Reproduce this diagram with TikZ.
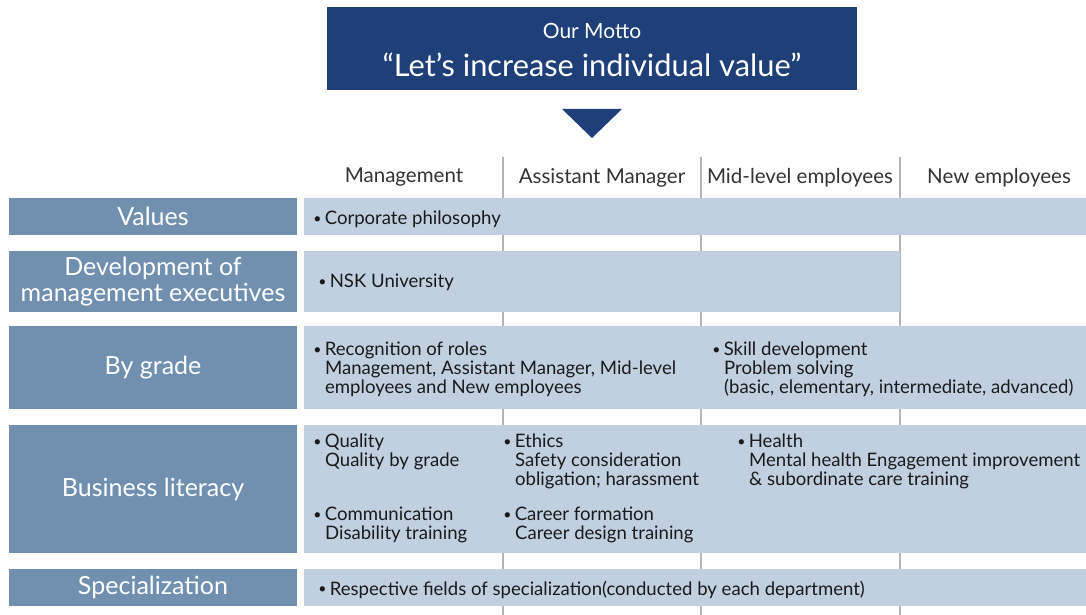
\documentclass[tikz,border=0pt]{standalone}
\usepackage{fontspec}
\setmainfont{Lato}
\usetikzlibrary{positioning}
\definecolor{motto}{HTML}{1E3F78}
\definecolor{label}{HTML}{7190B0}
\definecolor{row}{HTML}{C0D0E1}
\definecolor{divider}{HTML}{B4B4B4}
\definecolor{headtext}{HTML}{333333}
\definecolor{itemtext}{HTML}{1A1A1A}
\newcommand{\bl}{\makebox[0.62em][l]{\raisebox{0.06em}{\fontsize{10}{10}\selectfont\textbullet}}}
\newcommand{\ind}{\hspace*{0.64em}}

\begin{document}
\begin{tikzpicture}[x=0.025cm,y=-0.025cm,
    block_motto/.style ={rectangle, draw=none, fill=motto,
      minimum width=13.25cm, minimum height=2.075cm},
    block_mottotext/.style ={text=white, inner sep=0pt},
    block_label/.style ={rectangle, draw=none, fill=label, text=white,
      minimum width=7.2cm, align=center, inner sep=0pt,
      font=\fontsize{17.8}{18.4}\selectfont},
    block_row/.style ={rectangle, draw=none, fill=row,
      minimum width=19.55cm, inner sep=0pt},
    block_head/.style ={text=headtext, font=\fontsize{14.6}{17}\selectfont},
    block_item/.style ={anchor=north west, inner sep=0pt, align=left,
      text=itemtext, font=\fontsize{13.2}{13.5}\selectfont},
      line/.style ={draw=divider, line width=1.2pt}]
    \useasboundingbox (0,0) rectangle (1086,615);
    % motto on top
    \node [block_motto] (motto) at (592,48.5) {};
    \node [block_mottotext, font=\fontsize{14.9}{17}\selectfont] (motto_top) at (592,31) {Our Motto};
    \node [block_mottotext, font=\fontsize{21.9}{25}\selectfont] (motto_main) at (592,65) {“Let’s increase individual value”};
    \fill [motto] (562,109) -- (622,109) -- (592,138) -- cycle;
    % column dividers
    \begin{scope}[every path/.style=line]
      \foreach \x in {503,701,900}
        \path (\x,157) -- (\x,615);
    \end{scope}
    % column heads
    \node [block_head] (head_mgmt) at (404,177.5) {Management};
    \node [block_head] (head_asst) at (602,177.5) {Assistant Manager};
    \node [block_head] (head_mid) at (800,177.5) {Mid-level employees};
    \node [block_head] (head_new) at (999,177.5) {New employees};
    % rows
    \node [block_label, minimum height=0.925cm] (values) at (153,216.5) {Values};
    \node [block_row, minimum height=0.925cm] (values_row) at (695,216.5) {};
    \node [block_label, minimum height=1.525cm] (devel) at (153,281.5) {Development of\\management executives};
    \node [block_row, minimum height=1.525cm, minimum width=14.9cm] (devel_row) at (602,281.5) {};
    \node [block_label, minimum height=2.075cm] (grade) at (153,367.5) {By grade};
    \node [block_row, minimum height=2.075cm] (grade_row) at (695,367.5) {};
    \node [block_label, minimum height=3.2cm] (literacy) at (153,489) {Business literacy};
    \node [block_row, minimum height=3.2cm] (literacy_row) at (695,489) {};
    \node [block_label, minimum height=0.925cm] (special) at (153,587.5) {Specialization};
    \node [block_row, minimum height=0.925cm] (special_row) at (695,587.5) {};
    % items
    \node [block_item, anchor=west] (item_philo) at (313,219) {\bl Corporate philosophy};
    \node [block_item, anchor=west] (item_nsk) at (318,282) {\bl NSK University};
    \node [block_item] (item_roles) at (313,341.5) {\bl Recognition of roles\\\ind Management, Assistant Manager, Mid-level\\\ind employees and New employees};
    \node [block_item] (item_skill) at (712,341.5) {\bl Skill development\\\ind Problem solving\\\ind (basic, elementary, intermediate, advanced)};
    \node [block_item] (item_quality) at (313,433.5) {\bl Quality\\\ind Quality by grade};
    \node [block_item] (item_ethics) at (503,433.5) {\bl Ethics\\\ind Safety consideration\\\ind obligation; harassment};
    \node [block_item] (item_health) at (737,433.5) {\bl Health\\\ind Mental health Engagement improvement\\\ind \& subordinate care training};
    \node [block_item] (item_comm) at (313,506.5) {\bl Communication\\\ind Disability training};
    \node [block_item] (item_career) at (503,506.5) {\bl Career formation\\\ind Career design training};
    \node [block_item, anchor=west] (item_spec) at (318,589.5) {\bl Respective fields of specialization(conducted by each department)};
  \end{tikzpicture}
\end{document}
